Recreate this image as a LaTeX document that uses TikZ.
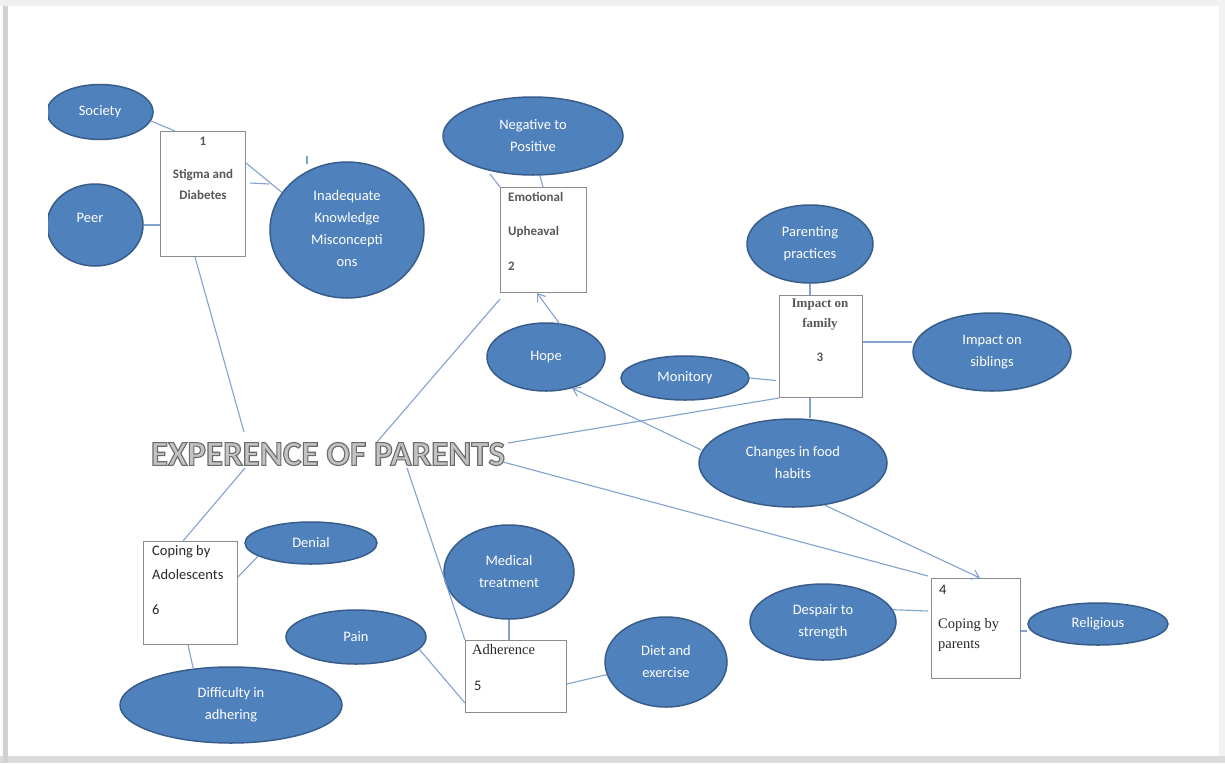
\documentclass[tikz,border=0pt]{standalone}
\usepackage{fontspec}
\setmainfont{Carlito}
\newfontfamily\tnr{Liberation Serif}
\usetikzlibrary{shapes.geometric,calc,arrows.meta}
\definecolor{ellfill}{RGB}{79,129,189}
\definecolor{elldraw}{RGB}{56,93,138}
\definecolor{linkblue}{RGB}{130,162,208}
\definecolor{boxline}{RGB}{140,140,140}
\definecolor{boxtext}{RGB}{88,88,88}
\definecolor{darktext}{RGB}{40,40,40}
\definecolor{wordart}{RGB}{195,195,195}
\newcommand{\outlinedtext}[1]{\special{pdf:code q 2 Tr 1.1 w 0.42 0.42 0.42 RG}#1\special{pdf:code Q}}
\begin{document}
\begin{tikzpicture}[x=1pt,y=-1pt,
  bubble/.style={ellipse, fill=ellfill, draw=elldraw, line width=1.5pt, inner sep=0pt,
    text=white, align=center, font=\fontsize{14.5}{22}\selectfont},
  themebox/.style={draw=boxline, line width=1pt, fill=white, anchor=north west, inner sep=0pt},
  boldlbl/.style={text=boxtext, font=\bfseries\fontsize{13}{15}\selectfont, inner sep=0pt},
  seriflbl/.style={text=boxtext, font=\tnr\bfseries\fontsize{13}{15}\selectfont, inner sep=0pt},
  plainlbl/.style={text=darktext, font=\fontsize{14.5}{16}\selectfont, inner sep=0pt, anchor=west},
  timeslbl/.style={text=darktext, font=\tnr\fontsize{14.5}{16}\selectfont, inner sep=0pt, anchor=west},
  link/.style={draw=linkblue, line width=1.1pt},
  arr/.style={link, -{Straight Barb[length=7pt,width=10pt]}}
]
\useasboundingbox (0,0) rectangle (1225,763);
% page frame with shadow
\fill[black!6] (0,0) rectangle (1225,6);
\fill[black!5] (1219,0) rectangle (1225,763);
\fill[black!14] (0,756) rectangle (1225,763);
\fill[black!18] (3,6) rectangle (8,763);
\fill[white] (8,6) rectangle (1219,756);

% ellipses clipped at the left margin
\begin{scope}
\clip (48,0) rectangle (1225,763);
\node[bubble, minimum width=106pt, minimum height=55pt] (soc) at (100,112) {Society};
\node[bubble, minimum width=96pt, minimum height=82pt] (peer) at (95,225) {Peer\hspace*{10pt}\\[-8pt]\mbox{}};
\end{scope}

% theme boxes
\node[themebox, minimum width=85pt, minimum height=125pt] (stig) at (160,131) {};
\node[themebox, minimum width=86pt, minimum height=105pt] (emo) at (500,187) {};
\node[themebox, minimum width=83pt, minimum height=102pt] (fam) at (779,295) {};
\node[themebox, minimum width=89pt, minimum height=100pt] (cpar) at (931,578) {};
\node[themebox, minimum width=101pt, minimum height=72pt] (adh) at (465,640) {};
\node[themebox, minimum width=94pt, minimum height=103pt] (cado) at (143,541) {};

% box texts
\node[boldlbl] (t1a) at (203,141) {1};
\node[boldlbl] (t1b) at (203,175) {Stigma and};
\node[boldlbl] (t1c) at (203,195) {Diabetes};
\node[boldlbl, anchor=west] (t2a) at (508,197) {Emotional};
\node[boldlbl, anchor=west] (t2b) at (508,232) {Upheaval};
\node[boldlbl, anchor=west] (t2c) at (508,266) {2};
\node[seriflbl] (t3a) at (820,305) {Impact on};
\node[seriflbl] (t3b) at (820,324) {family};
\node[boldlbl] (t3c) at (820,357) {3};
\node[plainlbl] (t4a) at (939,590) {4};
\node[timeslbl] (t4b) at (938,625) {Coping by};
\node[timeslbl] (t4c) at (938,646) {parents};
\node[timeslbl] (t5a) at (472,650) {Adherence};
\node[plainlbl] (t5b) at (474,686) {5};
\node[plainlbl] (t6a) at (152,552) {Coping by};
\node[plainlbl] (t6b) at (152,575) {Adolescents};
\node[plainlbl] (t6c) at (152,610) {6};

% ellipses
\node[bubble, minimum width=154pt, minimum height=136pt] (ina) at (347,230) {\mbox{}\\[-14pt]Inadequate\\Knowledge\\Misconcepti\\ons};
\node[bubble, minimum width=180pt, minimum height=78pt] (neg) at (533,136) {Negative to\\Positive};
\node[bubble, minimum width=118pt, minimum height=68pt] (hope) at (546,357) {Hope};
\node[bubble, minimum width=126pt, minimum height=78pt] (par) at (810,244) {Parenting\\practices};
\node[bubble, minimum width=158pt, minimum height=78pt] (sib) at (992,352) {Impact on\\siblings};
\node[bubble, minimum width=128pt, minimum height=44pt] (mon) at (685,378) {Monitory};
\node[bubble, minimum width=188pt, minimum height=88pt] (food) at (793,463) {Changes in food\\habits};
\node[bubble, minimum width=146pt, minimum height=76pt] (desp) at (823,622) {Despair to\\strength};
\node[bubble, minimum width=140pt, minimum height=42pt] (rel) at (1098,624) {Religious};
\node[bubble, minimum width=122pt, minimum height=90pt] (diet) at (666,662) {Diet and\\exercise};
\node[bubble, minimum width=130pt, minimum height=94pt] (med) at (509,572) {Medical\\treatment};
\node[bubble, minimum width=140pt, minimum height=54pt] (pain) at (356,637) {Pain};
\node[bubble, minimum width=132pt, minimum height=42pt] (den) at (311,543) {Denial};
\node[bubble, minimum width=222pt, minimum height=76pt] (diff) at (231,705) {Difficulty in\\adhering};

% central title
\node[text=wordart, font=\bfseries\fontsize{35}{35}\selectfont, inner sep=0pt] (exp) at (328,454) {\outlinedtext{EXPERENCE OF PARENTS}};

% connectors
\draw[link] (soc.-10) -- ($(stig.north west)+(15,0)$);
\draw[link] (peer.east) -- (stig.west |- peer.east);
\draw[link] ($(stig.north east)+(0,32)$) -- (ina.150);
\coordinate (inaend) at ($(ina.west)+(0,-46)$);
\draw[link] ($(stig.north east)+(4,52)$) -- (inaend);
\draw[link] ($(ina.north)+(-40,-5)$) -- ($(ina.north)+(-40,3)$);
\draw[link] ($(stig.south west)+(35,0)$) -- ($(exp.center)+(-84,-22)$);

\draw[link] ($(emo.north west)+(-10,-13)$) -- (emo.north west);
\draw[link] ($(emo.north west)+(40,-11)$) -- ($(emo.north west)+(43,0)$);
\draw[arr] ($(hope.north)+(14,2)$) -- ($(emo.south west)+(37,0)$);
\draw[link] ($(emo.south west)+(0,6)$) -- ($(exp.center)+(49,-12)$);

\draw[link] (par.south) -- (par.south |- fam.north);
\coordinate (famr) at ($(fam.north east)+(0,47)$);
\draw[link] (famr) -- (sib.west |- famr);
\draw[link] (mon.east) -- ($(fam.west)+(-3,34)$);
\coordinate (famb) at ($(fam.south west)+(31,0)$);
\draw[link] (famb) -- (famb |- food.north);
\draw[link] (fam.south west) -- ($(exp.center)+(180,-11)$);
\draw[arr] ($(food.west)+(3,-13)$) -- (hope.-50);

\draw[link] ($(exp.center)+(175,8)$) -- ($(cpar.north west)+(-3,-2)$);
\draw[arr] (food.-53) -- ($(cpar.north west)+(49,0)$);
\draw[link] (desp.10) -- ($(cpar.north west)+(-3,33)$);
\coordinate (cparr) at ($(cpar.north east)+(0,53)$);
\draw[link] (cparr) -- (rel.west |- cparr);

\draw[link] ($(exp.center)+(79,14)$) -- (adh.north west);
\draw[link] (med.south) -- (med.south |- adh.north);
\draw[link] (pain.-11) -- ($(adh.south west)+(0,-10)$);
\draw[link] ($(adh.south east)+(0,-29)$) -- (diet.192);

\draw[link] ($(cado.north west)+(40,0)$) -- ($(exp.center)+(-83,14)$);
\draw[link] ($(cado.north east)+(0,36)$) -- (den.194);
\draw[link] ($(cado.south west)+(45,0)$) -- (diff.136);
\end{tikzpicture}
\end{document}
